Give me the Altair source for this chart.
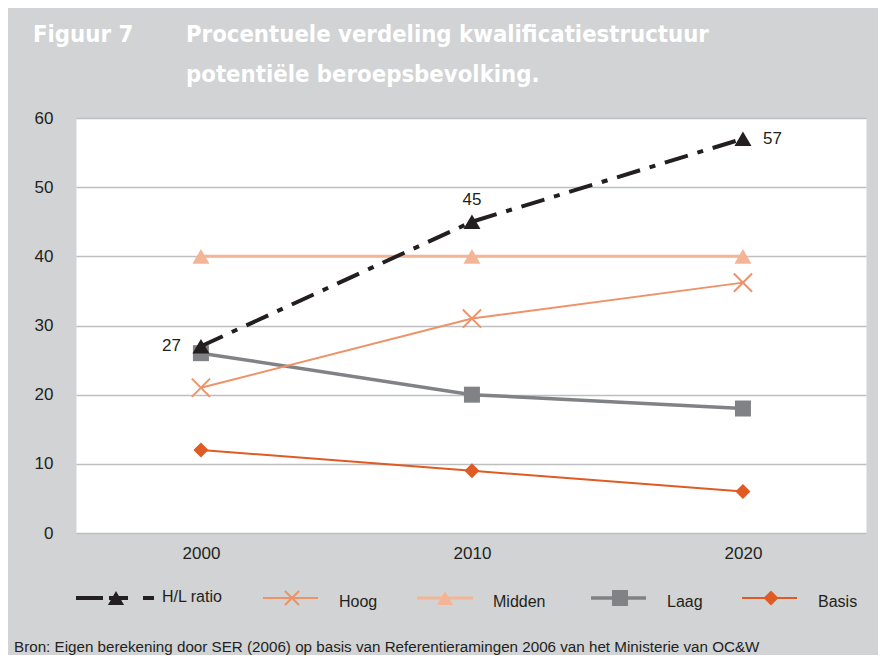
import altair as alt
import pandas as pd

# ---- data ----
years = [2000, 2010, 2020]
series_names = ["H/L ratio", "Hoog", "Midden", "Laag", "Basis"]
hl_ratio = [27, 45, 57]
hoog = [21, 31, 36.2]
midden = [40, 40, 40]
laag = [26, 20, 18]
basis = [12, 9, 6]
y_ticks = [0, 10, 20, 30, 40, 50, 60]

title_fig = "Figuur 7"
title_lines = ["Procentuele verdeling kwalificatiestructuur", "potentiële beroepsbevolking."]
source = "Bron: Eigen berekening door SER (2006) op basis van Referentieramingen 2006 van het Ministerie van OC&W"

values = {"H/L ratio": hl_ratio, "Hoog": hoog, "Midden": midden, "Laag": laag, "Basis": basis}

X_PATH = "M-1,-1L1,1M-1,1L1,-1"
styles = {
    "H/L ratio": dict(color="#231f20", shape="triangle-up", size=290, filled=True, width=4, dash=[24, 10, 6, 10]),
    "Hoog": dict(color="#ee9268", shape=X_PATH, size=330, filled=False, width=2),
    "Midden": dict(color="#f4b596", shape="triangle-up", size=290, filled=True, width=3),
    "Laag": dict(color="#808285", shape="square", size=256, filled=True, width=3.5),
    "Basis": dict(color="#e05a24", shape="diamond", size=225, filled=True, width=2),
}

W, H = 790, 415
FONT = "Liberation Sans"

xscale = alt.Scale(domain=[1995.39, 2024.54], nice=False, zero=False)
yscale = alt.Scale(domain=[0, 60], nice=False)
xenc = alt.X("year:Q", scale=xscale,
             axis=alt.Axis(values=years, format="d", title=None, grid=False, domain=False,
                           ticks=False, labelPadding=12, labelFontSize=17, labelFont=FONT,
                           labelColor="#231f20"))
yenc = alt.Y("value:Q", scale=yscale,
             axis=alt.Axis(values=y_ticks, title=None, domain=False, ticks=False,
                           labelPadding=23, labelFontSize=17, labelFont=FONT,
                           labelColor="#231f20", gridColor="#bcbec0", gridWidth=1.5))


def point_mark(data, st, size=None):
    size = size or st["size"]
    if st["filled"]:
        return alt.Chart(data).mark_point(shape=st["shape"], size=size, filled=True,
                                          color=st["color"], opacity=1)
    return alt.Chart(data).mark_point(shape=st["shape"], size=size, filled=False,
                                      color=st["color"], strokeWidth=2, opacity=1)


layers = []
for name in ["Basis", "Laag", "Hoog", "Midden", "H/L ratio"]:
    st = styles[name]
    df = pd.DataFrame({"year": years, "value": values[name], "series": name})
    line_kw = dict(color=st["color"], strokeWidth=st["width"])
    if "dash" in st:
        line_kw["strokeDash"] = st["dash"]
    layers.append(alt.Chart(df).mark_line(**line_kw).encode(x=xenc, y=yenc))
    layers.append(point_mark(df, st).encode(x=xenc, y=yenc))

# data labels for H/L ratio
hl_df = pd.DataFrame({"year": years, "value": hl_ratio})
label_offsets = [dict(dx=-20, dy=0, align="right"), dict(dx=0, dy=-22, align="center"),
                 dict(dx=20, dy=0, align="left")]
for yr, off in zip(years, label_offsets):
    layers.append(
        alt.Chart(hl_df).transform_filter(alt.datum.year == yr)
        .mark_text(fontSize=17, font=FONT, color="#231f20", baseline="middle", **off)
        .encode(x=xenc, y=yenc, text=alt.Text("value:Q"))
    )

# ---- legend (layout in pixels relative to plot area) ----
LEG_Y = 480
leg_layout = {  # line start, line end, marker x, label x, label y
    "H/L ratio": (0, 78, 40, 86, 479),
    "Hoog": (187, 242, 216, 263, 484),
    "Midden": (341, 397, 369, 417, 484),
    "Laag": (515, 570, 544, 591, 484),
    "Basis": (666, 721, 695, 742, 484),
}
legend_marker_size = {"H/L ratio": 260, "Hoog": 200, "Midden": 260, "Laag": 256, "Basis": 225}
one = pd.DataFrame({"k": [0]})
for name in series_names:
    st = styles[name]
    x1, x2, xm, xl, yl = leg_layout[name]
    rule_kw = dict(color=st["color"], strokeWidth=st["width"])
    if name == "H/L ratio":
        rule_kw["strokeDash"] = [27, 6, 19, 15, 11, 200]
    layers.append(alt.Chart(one).mark_rule(**rule_kw).encode(
        x=alt.value(x1), x2=alt.value(x2), y=alt.value(LEG_Y)))
    layers.append(point_mark(one, st, legend_marker_size[name]).encode(
        x=alt.value(xm), y=alt.value(LEG_Y)))
    ldf = pd.DataFrame({"label": [name]})
    layers.append(alt.Chart(ldf).mark_text(align="left", baseline="middle", fontSize=16,
                                           font=FONT, color="#231f20").encode(
        x=alt.value(xl), y=alt.value(yl), text="label:N"))

# ---- titles and source ----
TFONT = "DejaVu Sans Condensed"
tdf = pd.DataFrame({"t": [title_fig]})
layers.append(alt.Chart(tdf).mark_text(align="left", baseline="middle", fontSize=23.7,
                                       font=TFONT, fontWeight="bold", color="white").encode(
    x=alt.value(-43), y=alt.value(-83), text="t:N"))
for i, line in enumerate(title_lines):
    ldf = pd.DataFrame({"t": [line]})
    layers.append(alt.Chart(ldf).mark_text(align="left", baseline="middle", fontSize=23.7,
                                           font=TFONT, fontWeight="bold", color="white").encode(
        x=alt.value(110), y=alt.value(-83 + 40 * i), text="t:N"))
sdf = pd.DataFrame({"t": [source]})
layers.append(alt.Chart(sdf).mark_text(align="left", baseline="middle", fontSize=15.2,
                                       font=FONT, color="#231f20").encode(
    x=alt.value(-62), y=alt.value(529), text="t:N"))

chart = alt.layer(*layers).properties(
    width=W, height=H,
    background="#d1d3d4",
    padding={"left": 68, "top": 110, "right": 12, "bottom": 122},
    autosize=alt.AutoSizeParams(type="none"),
).configure_view(fill="white", stroke="transparent")

chart.save("out.html", embed_options={"renderer": "svg", "actions": False})
